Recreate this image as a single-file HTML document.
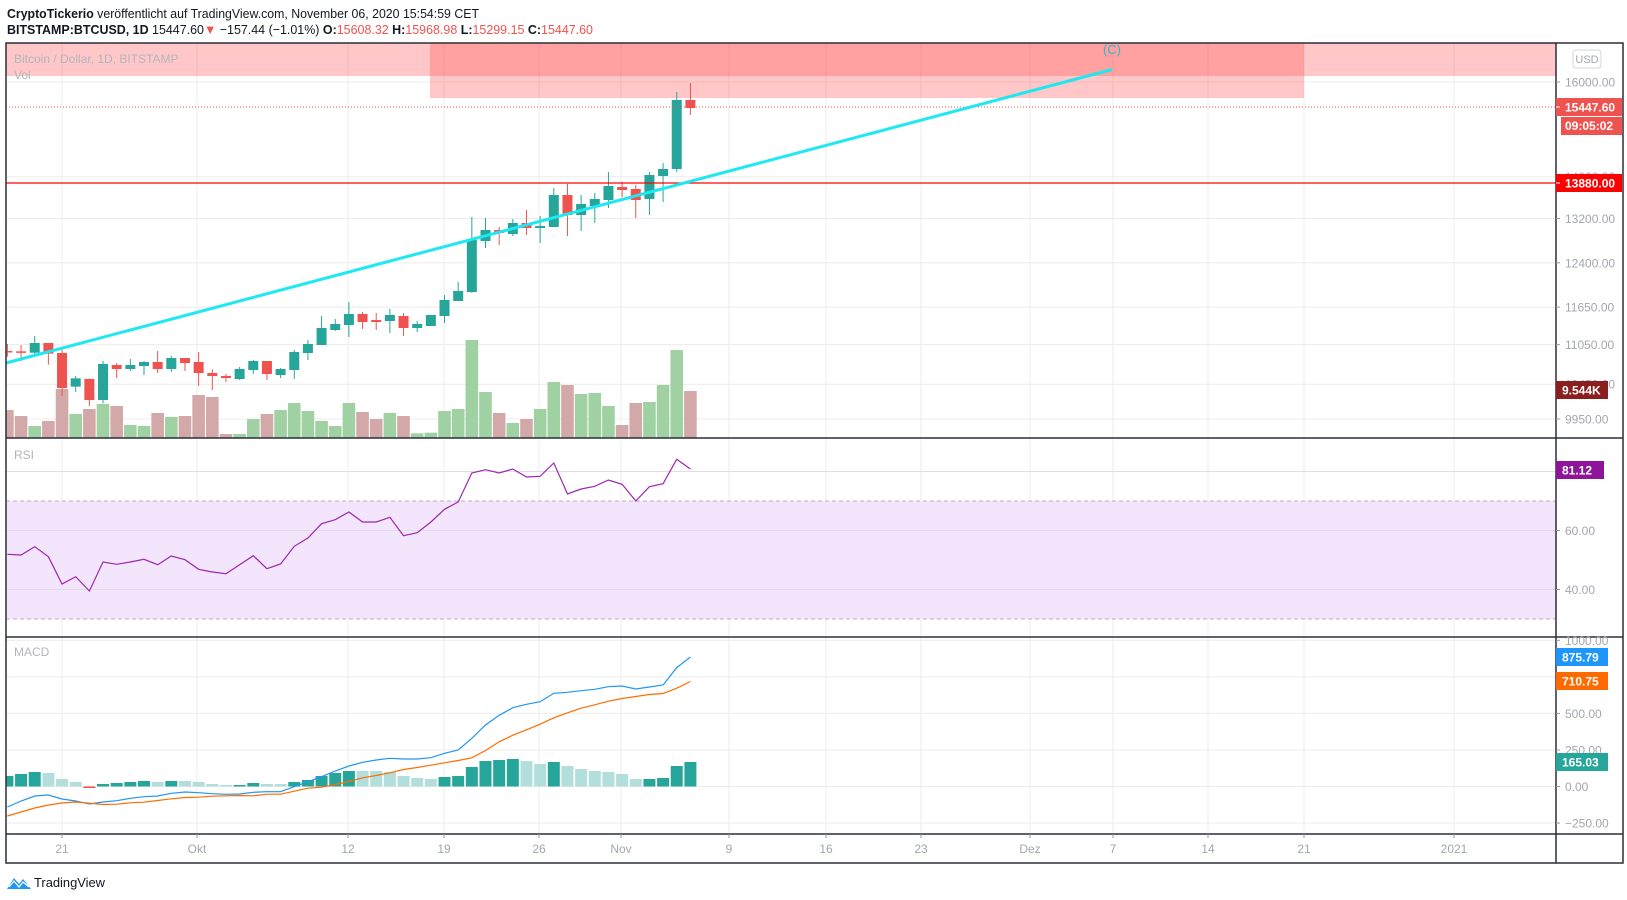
<!DOCTYPE html>
<html><head><meta charset="utf-8"><style>
html,body{margin:0;padding:0;background:#fff;}
svg{display:block;font-family:"Liberation Sans",sans-serif;}
</style></head><body>
<svg id="s" width="1627" height="900" xmlns="http://www.w3.org/2000/svg">
<text x="7" y="18" font-size="13" fill="#131722" textLength="472" lengthAdjust="spacingAndGlyphs"><tspan font-weight="bold">CryptoTickerio</tspan> veröffentlicht auf TradingView.com, November 06, 2020 15:54:59 CET</text>
<text x="7" y="34" font-size="13" fill="#131722" textLength="586" lengthAdjust="spacingAndGlyphs"><tspan font-weight="bold">BITSTAMP:BTCUSD, 1D</tspan> 15447.60<tspan fill="#ef5350">▼</tspan> −157.44 (−1.01%) <tspan font-weight="bold">O:</tspan><tspan fill="#ef5350">15608.32</tspan> <tspan font-weight="bold">H:</tspan><tspan fill="#ef5350">15968.98</tspan> <tspan font-weight="bold">L:</tspan><tspan fill="#ef5350">15299.15</tspan> <tspan font-weight="bold">C:</tspan><tspan fill="#ef5350">15447.60</tspan></text>
<g id="g"></g>
</svg>
<script>
const NS="http://www.w3.org/2000/svg";const G=document.getElementById('g');
function el(t,a,txt){const e=document.createElementNS(NS,t);for(const k in a)e.setAttribute(k,a[k]);if(txt!==undefined)e.textContent=txt;G.appendChild(e);return e;}
const L=6,R=1556,RE=1623,T=43,MB=438,RB=637,MCB=834,TB=863;
const X=i=>7.4+i*13.66;
const Y=p=>82+(Math.log(16000)-Math.log(p))*709.5;
const dx=[62,197,348,444,539,621,729,826,921,1030,1113,1208,1304,1454];
dx.forEach(x=>el('line',{x1:x,x2:x,y1:T,y2:MCB,stroke:'#ececec'}));
[16000,14000,13200,12400,11650,11050,10450,9950].forEach(p=>el('line',{x1:L,x2:R,y1:Y(p),y2:Y(p),stroke:'#ececec'}));
el('rect',{x:L,y:T,width:R-L,height:33,fill:'rgba(255,82,82,0.32)'});
el('rect',{x:430,y:T,width:874,height:55,fill:'rgba(255,82,82,0.32)'});
el('text',{x:14,y:63,'font-size':12,fill:'#b2b5be'},'Bitcoin / Dollar, 1D, BITSTAMP');
el('text',{x:14,y:79,'font-size':12,fill:'#b2b5be'},'Vol');
const vt=[750,768,798,783,687,762,747,732,738,795,798,759,771,768,705,711,822,822,777,762,750,729,753,783,798,729,756,777,759,768,820,818,753,747,540,696,759,789,777,747,666,675,702,699,738,795,729,726,675,570];
const C=[[573,576,552,590,'r'],[574,578,555,603,'r'],[549,578,528,585,'g'],[549,581,549,614,'r'],[579,684,565,708,'r'],[655,680,648,696,'g'],[657,720,655,738,'r'],[612,720,603,730,'g'],[615,627,609,654,'r'],[615,627,597,633,'g'],[606,618,603,645,'g'],[606,627,573,639,'r'],[594,627,588,636,'g'],[594,609,594,633,'r'],[606,639,576,678,'r'],[639,648,628,690,'r'],[648,654,642,666,'r'],[627,657,621,660,'g'],[603,630,600,642,'g'],[603,642,603,660,'r'],[627,645,624,654,'g'],[576,630,570,657,'g'],[552,579,540,600,'g'],[504,555,468,555,'g'],[492,510,477,513,'g'],[462,495,426,531,'g'],[462,486,456,507,'r'],[480,486,459,510,'r'],[465,483,447,519,'g'],[468,504,459,528,'r'],[492,504,483,516,'g'],[465,498,465,498,'g'],[420,468,405,489,'g'],[393,423,366,423,'g'],[240,396,171,399,'g'],[210,243,174,264,'g'],[210,219,201,255,'r'],[189,222,177,228,'g'],[189,204,150,225,'r'],[198,204,168,249,'g'],[105,201,84,201,'g'],[105,165,72,228,'r'],[132,165,105,213,'g'],[117,138,99,189,'g'],[78,120,36,144,'g'],[81,90,66,111,'r'],[87,120,75,174,'r'],[45,117,36,165,'g'],[27,48,9,126,'g']];
const Cr=C.map(c=>[160+c[0]/3,160+c[1]/3,160+c[2]/3,160+c[3]/3,c[4]]);
Cr.push([100,169,92,172,'g']);Cr.push([100,108,83,115,'r']);
vt.forEach((t,i)=>{const y=160+t/3;const col=(Cr[i][4]=='g')?'#9fd1a3':'#d3a8a8';el('rect',{x:X(i)-6.3,y:y,width:12.6,height:MB-y,fill:col});});
el('rect',{x:X(50)-6.3,y:391,width:12.6,height:MB-391,fill:'#d3a8a8'});
Cr.forEach((c,i)=>{const x=X(i);const col=c[4]=='g'?'#26a69a':'#ef5350';
el('line',{x1:x,x2:x,y1:c[2],y2:c[3],stroke:col,'stroke-width':1});
el('rect',{x:x-5,y:c[0],width:10,height:Math.max(1.5,c[1]-c[0]),fill:col});});
el('line',{x1:L,x2:R,y1:107,y2:107,stroke:'#ef5350','stroke-dasharray':'1 2'});
el('line',{x1:L,x2:R,y1:183,y2:183,stroke:'#ff0000','stroke-width':1.3});
el('line',{x1:L,x2:1112,y1:363,y2:69.5,stroke:'#1ee8f2','stroke-width':3});
el('text',{x:1112,y:54,'font-size':13,fill:'#3bb4c0','text-anchor':'middle'},'(C)');
const ry=v=>501+(70-v)*2.95;
el('rect',{x:L,y:501,width:R-L,height:118,fill:'#f3e5fc'});
[501,619].forEach(y=>el('line',{x1:L,x2:R,y1:y,y2:y,stroke:'#b8b0bd','stroke-dasharray':'4 3'}));
[80,60,40].forEach(v=>el('line',{x1:L,x2:R,y1:ry(v),y2:ry(v),stroke:'#e4dbe8'}));
el('text',{x:14,y:459,'font-size':12,fill:'#b2b5be'},'RSI');
const rz=[343,345,320,350,432,410,453,366,373,366,358,374,348,359,388,396,401,374,347,386,372,319,294,251,239,216,246,246,232,287,278,246,208,186,99,89,99,87,111,109,69,162,147,139,120,133,183,140,131,58,87];
el('polyline',{points:rz.map((z,i)=>X(i).toFixed(1)+','+(440+z/3).toFixed(1)).join(' '),fill:'none',stroke:'#9c27b0','stroke-width':1.2});
const Z=786.5,my=v=>Z-v*0.1462;
[1000,750,500,250,0,-250].forEach(v=>el('line',{x1:L,x2:R,y1:my(v),y2:my(v),stroke:'#ececec'}));
el('text',{x:14,y:656,'font-size':12,fill:'#b2b5be'},'MACD');
const ht=[1008,1002,996,999,1017,1026,1042,1032,1029,1026,1023,1026,1023,1023,1026,1032,1035,1035,1029,1032,1032,1026,1020,1008,999,993,993,993,996,1008,1014,1017,1011,1008,981,963,960,957,963,972,966,978,987,993,996,1002,1017,1017,1014,978,966];
const hcol=[1,1,1,0,0,0,2,1,1,1,1,0,1,0,0,0,0,1,1,0,0,1,1,1,1,1,0,0,0,0,0,0,1,1,1,1,1,1,0,0,1,0,0,0,0,0,0,1,1,1,1];
ht.forEach((t,i)=>{const y=440+t/3;const top=Math.min(y,Z),h=Math.abs(Z-y)||1;
el('rect',{x:X(i)-6,y:top,width:12,height:Math.max(h,1.5),fill:hcol[i]==2?'#ef5350':(hcol[i]?'#26a69a':'#b2dfdb')});});
const bl=[807,801,796,795,799,801,804,802,800.7,798.3,796.7,796,793.3,792,792.7,793.7,794.3,794,792.3,791.7,791.7,786.7,781.7,776.7,771,766,762.3,760,758.3,759,759,757.7,753.3,750,738.3,725,715.3,707.7,704.3,701.7,693.3,692.3,690.7,689.3,686.7,686,689,687,685,667.7,657];
el('polyline',{points:bl.map((y,i)=>X(i).toFixed(1)+','+y).join(' '),fill:'none',stroke:'#2196f3','stroke-width':1.2});
const or=bl.map((y,i)=>y+(Z-(440+ht[i]/3)));
or[0]=816;or[1]=812;or[2]=808;or[3]=805;or[4]=803;or[5]=802;
el('polyline',{points:or.map((y,i)=>X(i).toFixed(1)+','+y.toFixed(1)).join(' '),fill:'none',stroke:'#ff6d00','stroke-width':1.2});
el('rect',{x:0,y:T,width:L,height:TB-T,fill:'#fff'});
const fs='#2a2e39';
el('rect',{x:L,y:T,width:RE-L,height:TB-T,fill:'none',stroke:fs,'stroke-width':1.5});
el('line',{x1:R,x2:R,y1:T,y2:TB,stroke:fs,'stroke-width':1.5});
[MB,RB,MCB].forEach(y=>el('line',{x1:L,x2:RE,y1:y,y2:y,stroke:fs,'stroke-width':1.5}));
function ax(y,t){el('line',{x1:R,x2:R+4,y1:y,y2:y,stroke:'#9598a1'});el('text',{x:1565,y:y+4.5,'font-size':12,fill:'#a3a6af'},t);}
[[16000,'16000.00'],[14000,'14000.00'],[13200,'13200.00'],[12400,'12400.00'],[11650,'11650.00'],[11050,'11050.00'],[10450,'10450.00'],[9950,'9950.00']].forEach(a=>ax(Y(a[0]),a[1]));
ax(ry(60),'60.00');ax(ry(40),'40.00');
[[1000,'1000.00'],[750,'750.00'],[500,'500.00'],[250,'250.00'],[0,'0.00'],[-250,'−250.00']].forEach(a=>ax(my(a[0]),a[1]));
el('rect',{x:1573,y:50,width:28,height:18,rx:3,fill:'#fff',stroke:'#d1d4dc'});
el('text',{x:1587,y:63,'font-size':11,fill:'#a3a6af','text-anchor':'middle'},'USD');
function lab(y,t,c,x0){x0=x0||R;el('rect',{x:x0,y:y-9,width:RE-x0-1,height:18,fill:c});el('line',{x1:R,x2:R+4,y1:y,y2:y,stroke:'#fff'});el('text',{x:1565,y:y+4.5,'font-size':12,'font-weight':'bold',fill:'#fff'},t);}
lab(107,'15447.60','#ef5350');
el('rect',{x:1561,y:117,width:61,height:18,fill:'#ef5350'});el('text',{x:1565,y:130,'font-size':12,'font-weight':'bold',fill:'#fff'},'09:05:02');
lab(183,'13880.00','#ff0000');
el('rect',{x:R,y:381,width:52,height:18,fill:'#8b1f1f'});el('text',{x:1562,y:394.5,'font-size':12,'font-weight':'bold',fill:'#fff'},'9.544K');
el('rect',{x:R,y:461,width:48,height:18,fill:'#8e1599'});el('text',{x:1562,y:474.5,'font-size':12,'font-weight':'bold',fill:'#fff'},'81.12');
el('rect',{x:R,y:648,width:52,height:18,fill:'#1e96fc'});el('text',{x:1562,y:661.5,'font-size':12,'font-weight':'bold',fill:'#fff'},'875.79');
el('rect',{x:R,y:672,width:52,height:18,fill:'#ff6a00'});el('text',{x:1562,y:685.5,'font-size':12,'font-weight':'bold',fill:'#fff'},'710.75');
el('rect',{x:R,y:753,width:52,height:18,fill:'#26a69a'});el('text',{x:1562,y:766.5,'font-size':12,'font-weight':'bold',fill:'#fff'},'165.03');
const dl=['21','Okt','12','19','26','Nov','9','16','23','Dez','7','14','21','2021'];
dx.forEach((x,i)=>{el('line',{x1:x,x2:x,y1:MCB,y2:MCB+4,stroke:'#9598a1'});el('text',{x:x,y:853,'font-size':12,fill:'#a3a6af','text-anchor':'middle'},dl[i]);});
el('path',{d:'M7 889 L14 878 L19 884 L23 879 L31 889 Z',fill:'#2196f3'});
el('path',{d:'M9 887 L14 881 L19 887 L23 882 L29 887',fill:'none',stroke:'#fff','stroke-width':1.2});
el('text',{x:34,y:887,'font-size':13,fill:'#131722',textLength:71,lengthAdjust:'spacingAndGlyphs'},'TradingView');
</script>
</body></html>
